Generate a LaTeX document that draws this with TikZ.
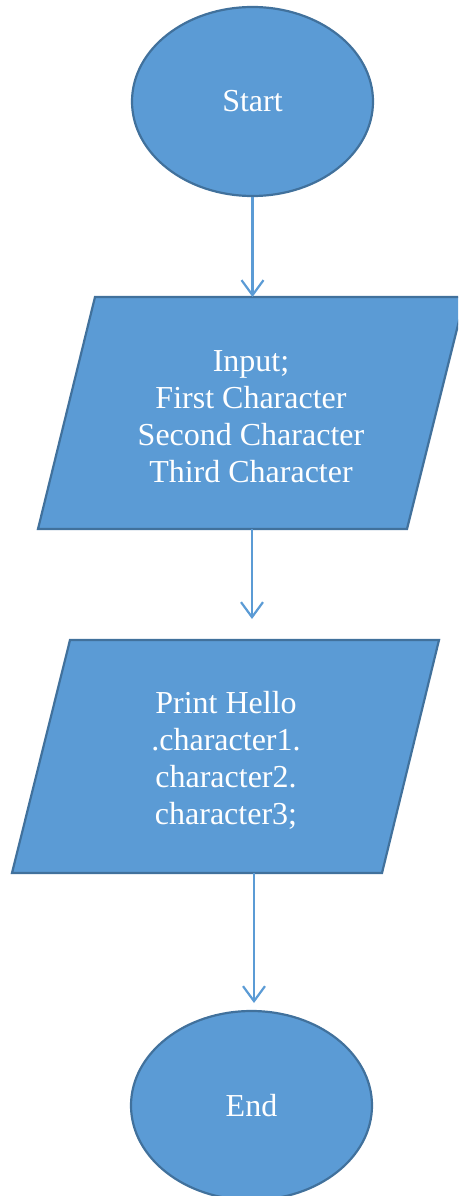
\documentclass[tikz,border=0pt]{standalone}
\usepackage{fontspec}
\setmainfont{Liberation Serif}
\usetikzlibrary{arrows.meta,shapes.geometric}
\definecolor{fillblue}{HTML}{5B9BD5}
\definecolor{edgeblue}{HTML}{41719C}
\begin{document}
\begin{tikzpicture}[x=1pt,y=-1pt,
  term/.style={ellipse,draw=edgeblue,fill=fillblue,line width=2.2pt,minimum width=241pt,minimum height=189pt,inner sep=0pt,text=white,font=\fontsize{32}{37}\selectfont},
  iobox/.style={draw=edgeblue,fill=fillblue,line width=2.2pt,line join=miter},
  txt/.style={text=white,align=center,font=\fontsize{32}{37}\selectfont,inner sep=0pt},
  arr/.style={draw=fillblue,line width=2.2pt,-{Straight Barb[length=15pt,width=22pt,line width=2.2pt]}}]
\useasboundingbox (0,0) rectangle (458,1196);
\clip (0,0) rectangle (458,1196);
% Start
\node[term] (start) at (252.5,101.5) {Start};
% Input parallelogram
\draw[iobox] (95,297) -- (465,297) -- (407,529) -- (38,529) -- cycle;
\node[txt] (input) at (251,417) {Input;\\First Character\\Second Character\\Third Character};
\coordinate (intop) at (252.5,297);
\coordinate (inbot) at (252,529);
% Print parallelogram
\draw[iobox] (70,640) -- (439,640) -- (382,873) -- (12,873) -- cycle;
\node[txt] (print) at (226,760.5) {Print Hello\\.character1.\\character2.\\character3;};
\coordinate (a2end) at (252,619);
\coordinate (prbot) at (254,873);
\coordinate (a3end) at (254,1003);
% End
\node[term] (end) at (251.5,1105.5) {End};
% connectors
\draw[arr] (start.south) -- (intop);
\draw[arr] (inbot) -- (a2end);
\draw[arr] (prbot) -- (a3end);
\end{tikzpicture}
\end{document}
